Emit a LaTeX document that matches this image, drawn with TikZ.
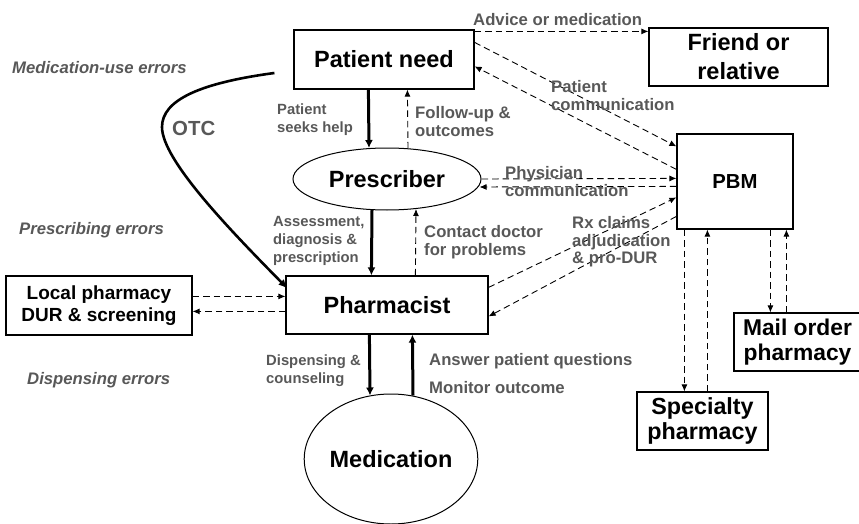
\documentclass[tikz,border=0pt]{standalone}
\usepackage{fontspec}
\setmainfont{Liberation Sans}
\usetikzlibrary{arrows.meta,calc,shapes.geometric}
\definecolor{labelgray}{RGB}{88,88,88}

\begin{document}
\begin{tikzpicture}[x=1pt,y=-1pt,
  box/.style={draw, line width=1.2pt, rectangle, inner sep=0pt, align=center,
    font=\bfseries\fontsize{23.5}{29}\selectfont},
  oval/.style={draw, line width=1pt, ellipse, inner sep=0pt,
    font=\bfseries\fontsize{23.5}{29}\selectfont},
  flow/.style={line width=3pt, -{Latex[length=8pt,width=8pt]}},
  link/.style={line width=0.9pt, dash pattern=on 6.5pt off 4pt,
    -{Latex[length=7pt,width=6pt]}},
  lbl/.style={text=labelgray, anchor=west, align=left, inner sep=0pt,
    font=\bfseries\fontsize{16.7}{17.5}\selectfont},
  lbls/.style={lbl, font=\bfseries\fontsize{14.8}{18}\selectfont},
  err/.style={lbl, font=\bfseries\itshape\fontsize{16.7}{20}\selectfont},
]
\useasboundingbox (0,0) rectangle (859,524);
\clip (0,0) rectangle (859,524);

% actors
\node[box, minimum width=180pt, minimum height=59pt] (pn) at (384,59.5) {Patient need};
\node[box, minimum width=179pt, minimum height=58pt, font=\bfseries\fontsize{23.5}{29}\selectfont] (fr) at (738.5,57) {Friend or\\relative};
\node[box, minimum width=116pt, minimum height=95pt, font=\bfseries\fontsize{20.3}{24}\selectfont] (pbm) at (735,181.5) {PBM};
\node[oval, minimum width=188pt, minimum height=62pt] (pr) at (387,179) {Prescriber};
\node[box, minimum width=202pt, minimum height=58pt] (ph) at (387,305) {Pharmacist};
\node[box, minimum width=186pt, minimum height=59pt, font=\bfseries\fontsize{19}{22}\selectfont] (lp) at (99,305.5) {Local pharmacy\\DUR \& screening};
\node[box, minimum width=127pt, minimum height=58pt, font=\bfseries\fontsize{22.8}{25}\selectfont] (mo) at (797.5,342) {Mail order\\pharmacy};
\node[box, minimum width=131pt, minimum height=58pt, font=\bfseries\fontsize{23.3}{25}\selectfont] (sp) at (702.5,421) {Specialty\\pharmacy};
\node[oval, minimum width=164pt, minimum height=130pt] (med) at (391,459) {Medication};

% error categories
\node[err] (e1) at (12,68) {Medication-use errors};
\node[err] (e2) at (19,230) {Prescribing errors};
\node[err] (e3) at (27,380) {Dispensing errors};

% main chain
\draw[flow] ($(pn.south west)+(75,0)$) -- ($(pr.north)+(-18,0.5)$);
\draw[link] ($(pr.north)+(21,0.8)$) -- ($(pn.south west)+(114,0)$);
\draw[flow] ($(pr.south)+(-15,-0.4)$) -- ($(ph.north west)+(86,0)$);
\draw[link] ($(ph.north west)+(130,0)$) -- ($(pr.south)+(29,-1.5)$);
\draw[flow] ($(ph.south west)+(84,0)$) -- ($(med.north)+(-21,2)$);
\draw[flow] ($(med.north)+(22,2)$) -- ($(ph.south west)+(127,0)$);

% over-the-counter path
\draw[line width=2.6pt, -{Latex[length=9pt,width=8pt]}]
  ($(pn.west)+(-19,13.5)$) .. controls (200,83) and (162,100) .. (162,127)
  .. controls (162,160) and (230,230) .. ($(ph.north west)+(2,13)$);

% local pharmacy
\draw[link] ($(lp.north east)+(0,21)$) -- ($(ph.north west)+(0,21)$);
\draw[link] ($(ph.north west)+(0,36)$) -- ($(lp.north east)+(0,36)$);

% friend or relative
\draw[link] ($(pn.north east)+(0,2)$) -- ($(fr.north west)+(0,4)$);

% PBM exchanges
\draw[link] ($(pn.north east)+(0,13)$) -- ($(pbm.north west)+(0,13)$);
\draw[link] ($(pbm.north west)+(0,36)$) -- ($(pn.north east)+(0,37)$);
\draw[link] (pr.east) -- ($(pbm.north west)+(0,45)$);
\draw[link] ($(pbm.north west)+(0,53)$) -- ($(pr.east)+(-2,8)$);
\draw[link] ($(ph.north east)+(0,12)$) -- ($(pbm.north west)+(0,64)$);
\draw[link] ($(pbm.north west)+(0,83)$) -- ($(ph.north east)+(0,41)$);
\draw[link] ($(pbm.south west)+(8,0)$) -- ($(sp.north west)+(48,0)$);
\draw[link] ($(sp.north west)+(71,0)$) -- ($(pbm.south west)+(31,0)$);
\draw[link] ($(pbm.south west)+(94,0)$) -- ($(mo.north west)+(37,0)$);
\draw[link] ($(mo.north west)+(53,0)$) -- ($(pbm.south west)+(110,0)$);

% connector labels
\node[lbl, font=\bfseries\fontsize{20.4}{22}\selectfont] (otc) at (172,128) {OTC};
\node[lbls] (l1) at (277,119.5) {Patient\\seeks help};
\node[lbl] (l2) at (415,121.5) {Follow-up \&\\outcomes};
\node[lbl] (l3) at (473,20) {Advice or medication};
\node[lbl] (l4) at (551,95.5) {Patient\\communication};
\node[lbl] (l5) at (505,181.5) {Physician\\communication};
\node[lbls] (l6) at (273,241) {Assessment,\\diagnosis \&\\prescription};
\node[lbl] (l7) at (424,242) {Contact doctor\\for problems};
\node[lbl] (l8) at (572,242) {Rx claims\\adjudication\\\& pro-DUR};
\node[lbls] (l9) at (266,371) {Dispensing \&\\counseling};
\node[lbl] (l10) at (429,361) {Answer patient questions};
\node[lbl] (l11) at (429,388) {Monitor outcome};
\end{tikzpicture}
\end{document}
